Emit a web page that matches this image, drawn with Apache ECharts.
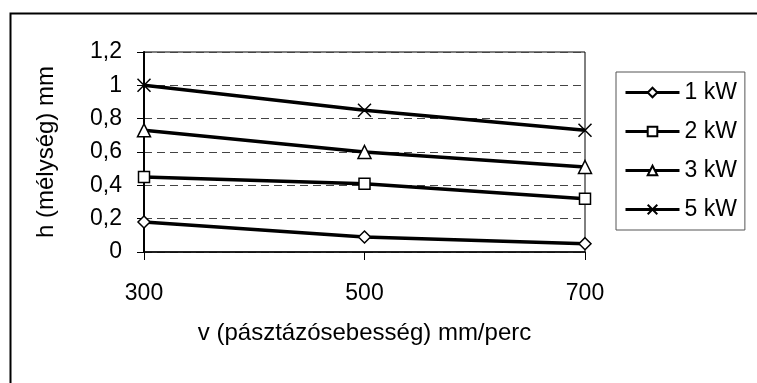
<!DOCTYPE html>
<html>
<head>
<meta charset="utf-8">
<script src="https://cdn.jsdelivr.net/npm/echarts@6/dist/echarts.min.js"></script>
<style>
html,body{margin:0;padding:0;background:#fff;}
#chart{width:757px;height:383px;}
</style>
</head>
<body>
<div id="chart"></div>
<script>
// ---- data ----
const categories = ['300', '500', '700'];
const seriesNames = ['1 kW', '2 kW', '3 kW', '5 kW'];
const values1kW = [0.18, 0.09, 0.05];
const values2kW = [0.45, 0.41, 0.32];
const values3kW = [0.73, 0.60, 0.51];
const values5kW = [1.00, 0.85, 0.73];
const xTitle = 'v (pásztázósebesség) mm/perc';
const yTitle = 'h (mélység) mm';

const FONT = '"Liberation Sans", Arial, sans-serif';
const FS = 23;
const FT = 24;
const seriesValues = [values1kW, values2kW, values3kW, values5kW];
const symbols = ['diamond', 'rect', 'triangle', 'path://M0,0L10,10M10,0L0,10'];
const symbolSizes = [12, 11, 13, 13];

const chart = echarts.init(document.getElementById('chart'), null, {renderer: 'canvas'});
chart.setOption({
  animation: false,
  backgroundColor: '#fff',
  textStyle: {fontFamily: FONT},
  grid: {left: 144, right: 172, top: 52, bottom: 131, show: true, borderColor: '#000', borderWidth: 1},
  graphic: [
    {type: 'rect', left: 8, top: 11, shape: {x: 0, y: 0, width: 770, height: 400}, style: {fill: 'none', stroke: '#000', lineWidth: 2}, z: 0, silent: true},
    {type: 'text', left: 36, top: -24, style: {text: 'g', font: FS + 'px ' + FONT, fill: '#000'}}
  ],
  legend: {
    orient: 'vertical',
    left: 616, top: 72,
    padding: [9, 8, 9, 8],
    itemGap: 16,
    itemWidth: 54, itemHeight: 12,
    borderColor: '#555', borderWidth: 1,
    backgroundColor: '#fff',
    lineStyle: {color: '#000', width: 3},
    textStyle: {fontFamily: FONT, fontSize: FS, color: '#000'},
    data: seriesNames
  },
  xAxis: {
    type: 'category',
    data: categories,
    boundaryGap: false,
    name: xTitle,
    nameLocation: 'middle',
    nameGap: 69,
    nameTextStyle: {fontFamily: FONT, fontSize: FT, color: '#000'},
    axisLine: {lineStyle: {color: '#000', width: 1.5}},
    axisTick: {show: true, length: 8, lineStyle: {color: '#000', width: 1}},
    axisLabel: {margin: 30, fontFamily: FONT, fontSize: FS, color: '#000'},
    splitLine: {show: false}
  },
  yAxis: {
    type: 'value',
    min: 0, max: 1.2, interval: 0.2,
    name: yTitle,
    nameLocation: 'middle',
    nameRotate: 90,
    nameGap: 86,
    nameTextStyle: {fontFamily: FONT, fontSize: FT, color: '#000'},
    axisLine: {show: true, lineStyle: {color: '#000', width: 2}},
    axisTick: {show: true, length: 7, lineStyle: {color: '#000', width: 1}},
    axisLabel: {margin: 22, fontFamily: FONT, fontSize: FS, color: '#000',
      formatter: v => String(Math.round(v * 10) / 10).replace('.', ',')},
    splitLine: {show: true, lineStyle: {color: '#444', width: 1, type: [8, 5]}}
  },
  series: seriesNames.map((name, i) => ({
    name: name,
    type: 'line',
    data: seriesValues[i],
    symbol: symbols[i],
    symbolSize: symbolSizes[i],
    showAllSymbol: true,
    lineStyle: {color: '#000', width: 3.5},
    itemStyle: {color: '#fff', borderColor: '#000', borderWidth: 1.5},
    z: 3
  }))
});
</script>
</body>
</html>
